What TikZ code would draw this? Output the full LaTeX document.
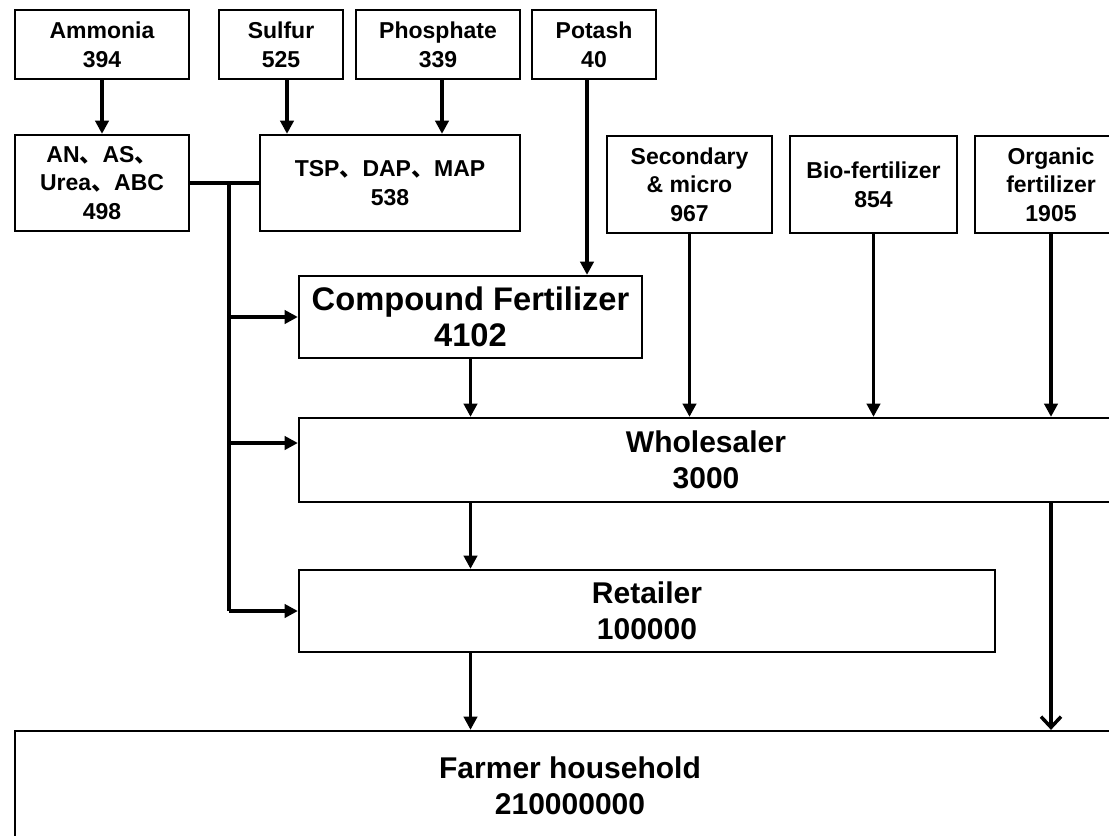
\documentclass[tikz,border=0pt]{standalone}
\usepackage{fontspec}
\setmainfont{Liberation Sans}
\newfontfamily\cjk{Noto Sans CJK SC}
\usetikzlibrary{arrows.meta, calc}
\newcommand{\dun}{{\cjk 、}}

\begin{document}
\begin{tikzpicture}[x=0.75pt, y=-0.75pt,
			box/.style={draw, line width=1.7pt, align=center, inner sep=0pt,
				font=\fontsize{17.25}{21.5}\selectfont\bfseries},
			bigbox/.style={box, font=\fontsize{22.5}{27}\selectfont\bfseries},
			flow/.style={line width=2.6pt, -{Triangle[length=10pt, width=10pt]}},
			openflow/.style={line width=2.6pt, -{Straight Barb[length=8pt, width=15pt, line width=2.6pt]}}]
			%Bildbereich
			\useasboundingbox (0,0) rectangle (1109,835);
			\clip (0,0) rectangle (1109,835);
			% Rohstoffe
			\node[box, minimum width=130.5pt, minimum height=51.75pt] (ammonia) at (102,44.5) {Ammonia\\394};
			\node[box, minimum width=93pt, minimum height=51.75pt] (sulfur) at (281,44.5) {Sulfur\\525};
			\node[box, minimum width=123pt, minimum height=51.75pt] (phosphate) at (438,44.5) {Phosphate\\339};
			\node[box, minimum width=93pt, minimum height=51.75pt] (potash) at (594,44.5) {Potash\\40};
			% Einzeldünger
			\node[box, minimum width=130.5pt, minimum height=72pt] (nitro) at (102,183) {AN\dun AS\dun\\Urea\dun ABC\\498};
			\node[box, minimum width=195pt, minimum height=72pt] (phos) at (390,183) {TSP\dun DAP\dun MAP\\538};
			\node[box, minimum width=123.75pt, minimum height=72.75pt] (secondary) at (689.5,184.5) {Secondary\\\& micro\\967};
			\node[box, minimum width=125.25pt, minimum height=72.75pt] (bio) at (873.5,184.5) {Bio-fertilizer\\854};
			\node[box, minimum width=114pt, minimum height=72.75pt] (organic) at (1051,184.5) {Organic\\fertilizer\\1905};
			% Handel und Bauern
			\node[bigbox, font=\fontsize{24.5}{27}\selectfont\bfseries, minimum width=257.25pt, minimum height=61.5pt] (compound) at (470.5,317) {Compound Fertilizer\\4102};
			\node[bigbox, minimum width=610.5pt, minimum height=63pt] (wholesaler) at (706,460) {Wholesaler\\3000};
			\node[bigbox, minimum width=522pt, minimum height=61.5pt] (retailer) at (647,611) {Retailer\\100000};
			\node[bigbox, minimum width=832.5pt, minimum height=81.75pt] (farmer) at (570,785.5) {Farmer household\\210000000};
			% Pfeile zeichnen
			\draw[flow] (ammonia) -- (nitro);
			\draw[flow] ($(sulfur.south)+(6,0)$) -- ($(sulfur.south |- phos.north)+(6,0)$);
			\draw[flow] ($(phosphate.south)+(4,0)$) -- ($(phosphate.south |- phos.north)+(4,0)$);
			\draw[flow] ($(potash.south)+(-7,0)$) -- ($(potash.south |- compound.north)+(-7,0)$);
			\foreach \src in {secondary, bio, organic}
				\draw[flow] (\src.south) -- (\src.south |- wholesaler.north);
			\draw[flow] (compound) -- (compound |- wholesaler.north);
			\draw[flow] (compound |- wholesaler.south) -- (compound |- retailer.north);
			\draw[flow] (compound |- retailer.south) -- (compound |- farmer.north);
			\draw[openflow] (organic |- wholesaler.south) -- (organic |- farmer.north);
			% Verteilung links
			\draw[line width=2.6pt] (nitro) -- (phos);
			\coordinate (junc) at (229,184);
			\draw[line width=2.6pt] (junc) -- (junc |- retailer.west);
			\draw[flow] (junc |- compound.west) -- (compound.west);
			\draw[flow] (junc |- 0,443) -- (wholesaler.west |- 0,443);
			\draw[flow] (junc |- retailer.west) -- (retailer.west);
		\end{tikzpicture}
\end{document}
